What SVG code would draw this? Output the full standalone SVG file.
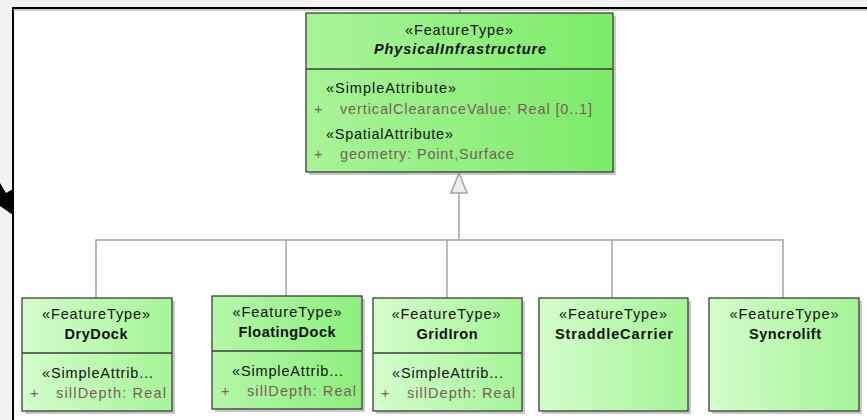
<svg xmlns="http://www.w3.org/2000/svg" width="867" height="420" viewBox="0 0 867 420">
<defs>
<linearGradient id="gTop" x1="0" y1="0" x2="1" y2="0"><stop offset="0" stop-color="#a8f498"/><stop offset="1" stop-color="#7ceb69"/></linearGradient>
<linearGradient id="gLight" x1="0" y1="0" x2="1" y2="0"><stop offset="0" stop-color="#d3fdcb"/><stop offset="1" stop-color="#a5f597"/></linearGradient>
<linearGradient id="gMid" x1="0" y1="0" x2="1" y2="0"><stop offset="0" stop-color="#b4f7a8"/><stop offset="1" stop-color="#8cef7c"/></linearGradient>
</defs>
<style>
.box{stroke:#3c3c3c;stroke-width:1.3}
.shadow{fill:#9a9a9a;opacity:0.55}
.div{stroke:#3c3c3c;stroke-width:1.3}
text{font-family:"Liberation Sans",Arial,sans-serif;font-size:14.5px;fill:#111}
.st{text-anchor:middle}
.nm{font-weight:bold;text-anchor:middle}
.att{fill:#7a5d5a}
.conn{stroke:#9ca2b8;stroke-width:1.5;fill:none}
</style>
<rect x="0" y="0" width="867" height="420" fill="#f2f2f2"/>
<rect x="13" y="8" width="870" height="430" fill="#fff" stroke="#000" stroke-width="2"/>
<line x1="13" y1="10" x2="867" y2="10" stroke="#9a9a9a" stroke-width="1"/>
<polygon points="0,183 6,193 13,189 13,215 0,206" fill="#000"/>

<g id="connectors">
<line class="conn" x1="460" y1="9" x2="460" y2="13"/>
<polyline class="conn" points="96,298 96,240 783,240 783,298"/>
<line class="conn" x1="286" y1="240" x2="286" y2="296"/>
<line class="conn" x1="447" y1="240" x2="447" y2="298"/>
<line class="conn" x1="612" y1="240" x2="612" y2="298"/>
<line class="conn" x1="459" y1="240" x2="459" y2="193"/>
<polygon points="459,173 467,193 451,193" fill="#f5ece8" stroke="#9ca2b8" stroke-width="1.5"/>
</g>

<g id="PhysicalInfrastructure">
<rect class="shadow" x="309" y="16" width="307" height="159"/>
<rect class="box" x="306" y="13" width="307" height="159" fill="url(#gTop)"/>
<line class="div" x1="306" y1="69" x2="613" y2="69"/>
<text class="st" x="459" y="35" textLength="108" lengthAdjust="spacing">«FeatureType»</text>
<text class="nm" x="460" y="54" font-style="italic" textLength="172" lengthAdjust="spacing">PhysicalInfrastructure</text>
<text x="326" y="93" textLength="130" lengthAdjust="spacing">«SimpleAttribute»</text>
<text class="att" x="314" y="114">+</text>
<text class="att" x="340" y="114" textLength="252" lengthAdjust="spacing">verticalClearanceValue: Real [0..1]</text>
<text x="326" y="139" textLength="127" lengthAdjust="spacing">«SpatialAttribute»</text>
<text class="att" x="314" y="159">+</text>
<text class="att" x="340" y="159" textLength="174" lengthAdjust="spacing">geometry: Point,Surface</text>
</g>

<g id="DryDock">
<rect class="shadow" x="25" y="301" width="150" height="113"/>
<rect class="box" x="22" y="298" width="150" height="113" fill="url(#gLight)"/>
<line class="div" x1="22" y1="353" x2="172" y2="353"/>
<text class="st" x="96" y="319" textLength="108" lengthAdjust="spacing">«FeatureType»</text>
<text class="nm" x="96" y="339" textLength="63" lengthAdjust="spacing">DryDock</text>
<text x="42" y="378" textLength="111" lengthAdjust="spacing">«SimpleAttrib...</text>
<text class="att" x="30" y="398">+</text>
<text class="att" x="56" y="398" textLength="110" lengthAdjust="spacing">sillDepth: Real</text>
</g>

<g id="FloatingDock">
<rect class="shadow" x="215" y="299" width="150" height="113"/>
<rect class="box" x="212" y="296" width="150" height="113" fill="url(#gMid)"/>
<line class="div" x1="212" y1="351" x2="362" y2="351"/>
<text class="st" x="287" y="317" textLength="109" lengthAdjust="spacing">«FeatureType»</text>
<text class="nm" x="287" y="337" textLength="97" lengthAdjust="spacing">FloatingDock</text>
<text x="232" y="376" textLength="111" lengthAdjust="spacing">«SimpleAttrib...</text>
<text class="att" x="221" y="396">+</text>
<text class="att" x="247" y="396" textLength="109" lengthAdjust="spacing">sillDepth: Real</text>
</g>

<g id="GridIron">
<rect class="shadow" x="376" y="301" width="149" height="113"/>
<rect class="box" x="373" y="298" width="149" height="113" fill="url(#gLight)"/>
<line class="div" x1="373" y1="353" x2="522" y2="353"/>
<text class="st" x="446" y="319" textLength="109" lengthAdjust="spacing">«FeatureType»</text>
<text class="nm" x="447" y="339" textLength="61" lengthAdjust="spacing">GridIron</text>
<text x="392" y="378" textLength="111" lengthAdjust="spacing">«SimpleAttrib...</text>
<text class="att" x="381" y="398">+</text>
<text class="att" x="407" y="398" textLength="108" lengthAdjust="spacing">sillDepth: Real</text>
</g>

<g id="StraddleCarrier">
<rect class="shadow" x="542" y="301" width="149" height="113"/>
<rect class="box" x="539" y="298" width="149" height="113" fill="url(#gLight)"/>
<text class="st" x="613" y="319" textLength="108" lengthAdjust="spacing">«FeatureType»</text>
<text class="nm" x="614" y="339" textLength="118" lengthAdjust="spacing">StraddleCarrier</text>
</g>

<g id="Syncrolift">
<rect class="shadow" x="712" y="301" width="150" height="113"/>
<rect class="box" x="709" y="298" width="150" height="113" fill="url(#gLight)"/>
<text class="st" x="784" y="319" textLength="109" lengthAdjust="spacing">«FeatureType»</text>
<text class="nm" x="785" y="339" textLength="72" lengthAdjust="spacing">Syncrolift</text>
</g>
</svg>
